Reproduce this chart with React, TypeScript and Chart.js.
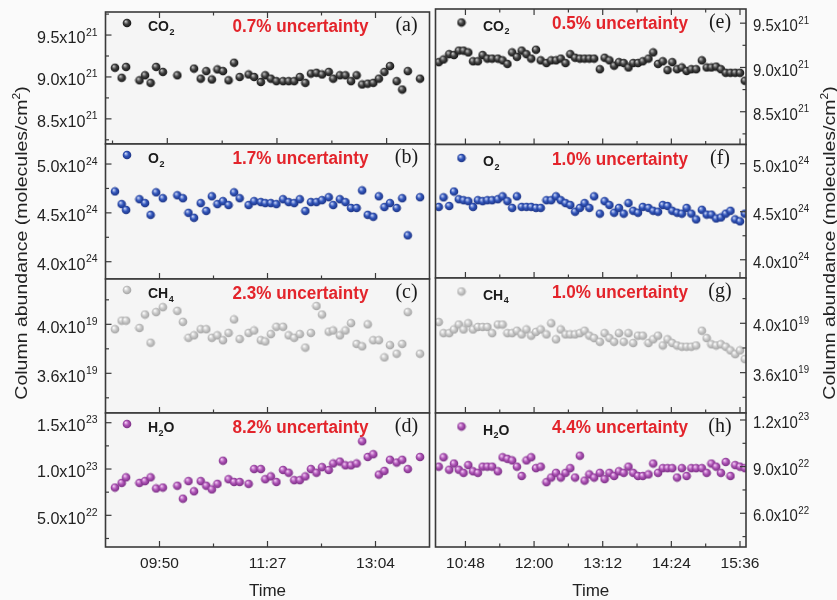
import React, { useEffect, useRef } from 'react';
import { Chart, registerables } from 'chart.js';
Chart.register(...registerables);

// ---------------- DATA ----------------
const LEFT_TIMES = ['09:10','09:16','09:20','09:32','09:37','09:42','09:47','09:53','10:06','10:11','10:16','10:21','10:27','10:32','10:37','10:42','10:47','10:52','10:57','11:02','11:10','11:15','11:21','11:25','11:30','11:35','11:41','11:46','11:51','11:56','12:01','12:06','12:11','12:16','12:22','12:26','12:32','12:37','12:42','12:47','12:52','12:57','13:02','13:07','13:12','13:17','13:23','13:28','13:33','13:44'];
const RIGHT_TIMES = ['10:20','10:25','10:31','10:36','10:41','10:46','10:51','10:56','11:01','11:06','11:11','11:16','11:22','11:27','11:32','11:37','11:42','11:47','11:52','11:57','12:02','12:07','12:13','12:18','12:23','12:28','12:33','12:38','12:43','12:48','12:53','12:58','13:03','13:09','13:14','13:19','13:24','13:29','13:34','13:39','13:44','13:49','13:54','14:00','14:05','14:10','14:15','14:20','14:25','14:30','14:35','14:40','14:45','14:50','14:56','15:01','15:06','15:11','15:16','15:21','15:26','15:31','15:36','15:41'];

// CO2 (x10^21 molecules/cm2)
const CO2_LEFT = [9.11,8.99,9.12,8.96,9.02,8.93,9.12,9.06,9.02,null,null,9.10,8.98,9.07,8.97,9.09,9.07,8.96,9.17,9.00,9.03,9.00,8.94,9.02,8.98,8.95,8.95,8.95,8.95,9.00,8.93,9.04,9.05,9.03,9.06,8.98,9.02,9.02,8.95,9.02,8.91,8.92,8.93,8.98,9.06,9.13,8.95,8.85,9.07,8.98];
const CO2_RIGHT = [9.06,9.09,9.15,9.14,9.19,9.19,9.17,9.07,9.07,9.14,9.10,9.10,9.10,9.08,9.04,9.17,9.12,9.19,9.15,9.10,9.20,9.08,9.05,9.08,9.08,9.10,9.05,9.15,9.11,9.10,9.10,9.10,9.10,8.98,9.11,9.08,9.02,9.06,9.05,9.00,9.05,9.05,9.07,9.10,9.17,9.04,9.07,8.97,9.06,8.98,9.00,8.96,8.98,8.98,9.08,9.00,9.00,9.01,8.98,8.94,8.94,8.94,8.94,8.85];
// O2 (x10^24)
const O2_LEFT = [4.72,4.59,4.53,4.64,4.60,4.48,4.71,4.65,4.68,4.65,4.50,4.45,4.60,4.52,4.67,4.59,4.62,4.58,4.71,4.65,4.58,4.62,4.61,4.60,4.60,4.59,4.64,4.61,4.60,4.64,4.52,4.61,4.61,4.63,4.66,4.58,4.64,4.61,4.55,4.55,4.73,4.48,4.46,4.67,4.56,4.60,4.55,4.65,4.27,4.66];
const O2_RIGHT = [4.55,4.65,4.56,4.71,4.63,4.62,4.61,4.55,4.62,4.61,4.62,4.62,4.63,4.66,4.61,4.54,4.66,4.55,4.55,4.55,4.54,4.54,4.62,4.62,4.66,4.62,4.59,4.57,4.50,4.54,4.59,4.54,4.66,4.48,4.61,4.57,4.49,4.54,4.48,4.59,4.51,4.49,4.55,4.54,4.51,4.50,4.57,4.56,4.51,4.49,4.48,4.54,4.48,4.42,4.52,4.47,4.47,4.43,4.44,4.48,4.51,4.42,4.40,4.48];
// CH4 (x10^19)
const CH4_LEFT = [3.96,4.03,4.03,3.97,4.08,3.85,4.10,4.14,4.11,4.02,3.89,3.91,3.96,3.96,3.89,3.91,3.87,3.93,4.04,3.88,3.93,3.95,3.87,3.86,3.92,3.98,3.98,3.91,3.89,3.92,3.81,3.93,4.15,4.08,3.94,3.95,3.91,3.95,4.01,3.84,3.82,4.00,3.87,3.87,3.73,3.83,3.76,3.84,4.10,3.76];
const CH4_RIGHT = [4.01,3.92,3.92,3.95,3.99,3.95,4.00,3.95,3.97,3.97,3.97,3.92,3.99,3.99,3.92,3.92,3.94,3.91,3.95,3.90,3.93,3.95,3.91,4.00,3.87,3.95,3.91,3.91,3.91,3.92,3.94,3.90,3.88,3.85,3.92,3.88,3.85,3.92,3.85,3.92,3.84,3.90,3.90,3.84,3.87,3.90,3.82,3.87,3.84,3.82,3.81,3.81,3.81,3.82,3.94,3.88,3.83,3.82,3.83,3.81,3.78,3.75,3.78,3.71];
// H2O (x10^23)
const H2O_LEFT = [0.80,0.85,0.91,0.85,0.87,0.91,0.79,0.80,0.82,0.68,0.87,0.76,0.87,0.82,0.78,0.84,1.09,0.89,0.86,0.86,0.84,1.00,1.00,0.89,0.92,0.86,0.99,0.96,0.88,0.88,0.92,1.00,0.96,1.02,0.99,1.06,1.08,1.04,1.04,1.06,1.30,1.13,1.16,0.94,0.98,1.10,1.07,1.10,1.00,1.13];
const H2O_RIGHT = [0.90,0.96,0.88,0.92,0.88,0.86,0.91,0.87,0.86,0.90,0.90,0.90,0.87,0.96,0.95,0.94,0.90,0.84,0.94,0.96,0.89,0.90,0.80,0.83,0.86,0.83,0.86,0.89,0.83,0.97,0.81,0.85,0.83,0.86,0.82,0.86,0.84,0.87,0.86,0.90,0.86,0.84,0.84,0.85,0.92,0.86,0.89,0.89,0.89,0.83,0.89,0.84,0.89,0.89,0.89,0.86,0.92,0.90,0.86,0.93,0.84,0.91,0.90,0.89];

// Axis ranges / ticks
const LEFT_X_RANGE = ['09:01.5', '13:52.5'];
const RIGHT_X_RANGE = ['10:16.6', '15:42.3'];
const LEFT_X_MAJOR = ['09:50', '11:27', '13:04'];
const LEFT_X_MINOR = ['10:38.5', '12:15.5'];
const PANEL_A_BOTTOM_MAJOR = ['09:57', '11:35.5', '13:14'];
const PANEL_A_BOTTOM_MINOR = ['09:07.8', '10:46.3', '12:24.8'];
const RIGHT_X_MAJOR = ['10:48', '12:00', '13:12', '14:24', '15:36'];
const RIGHT_X_MINOR = ['11:24', '12:36', '13:48', '15:00'];

const Y_CO2_LEFT = { min: 8.2, max: 9.775, major: [8.5, 9.0, 9.5], minor: [8.25, 8.75, 9.25, 9.75] };
const Y_CO2_RIGHT = { min: 8.13, max: 9.66, major: [8.5, 9.0, 9.5], minor: [8.25, 8.75, 9.25] };
const Y_O2_LEFT = { min: 3.823, max: 5.205, major: [4.0, 4.5, 5.0], minor: [4.25, 4.75] };
const Y_O2_RIGHT = { min: 3.81, max: 5.20, major: [4.0, 4.5, 5.0], minor: [4.25, 4.75] };
const Y_CH4_LEFT = { min: 3.276, max: 4.37, major: [3.6, 4.0], minor: [3.4, 3.8, 4.2] };
const Y_CH4_RIGHT = { min: 3.273, max: 4.367, major: [3.6, 4.0], minor: [3.4, 3.8, 4.2] };
const Y_H2O_LEFT = { min: 0.158, max: 1.605, major: [0.5, 1.0, 1.5], minor: [0.25, 0.75, 1.25] };
const Y_H2O_RIGHT = { min: 0.383, max: 1.245, major: [0.6, 0.9, 1.2], minor: [0.45, 0.75, 1.05] };

const UNCERTAINTY = ['0.7%', '1.7%', '2.3%', '8.2%', '0.5%', '1.0%', '1.0%', '4.4%'];
const LETTERS = ['(a)', '(b)', '(c)', '(d)', '(e)', '(f)', '(g)', '(h)'];
const Y_TITLE = 'Column abundance (molecules/cm';
const X_TITLE = 'Time';

// ---------------- LAYOUT / STYLE ----------------
const SANS = '"Liberation Sans", Arimo, Arial, sans-serif';
const SERIF = '"Liberation Serif", "DejaVu Serif", serif';
const RED = '#e3242b';
const AXIS = '#3a3a3a';
const COLS: any = {
  L: { canvasLeft: 0, canvasWidth: 437, x1: 105.5, x2: 429.5, rows: [[12, 144], [144, 279], [279, 413], [413, 547]],
       markerDx: 21.5, markerDy: 11, nameDx: 42.5, redDx: 195, letterDx: -23, titleX: 21 },
  R: { canvasLeft: 430, canvasWidth: 407, x1: 435.5, x2: 746, rows: [[9, 144.5], [144.5, 278], [278, 413], [413, 547]],
       markerDx: 26, markerDy: 13.5, nameDx: 47.5, redDx: 184.5, letterDx: -26, titleX: 829 },
};
const SHADES: any = {
  CO2: ['#c8c8c8', '#444444', '#0a0a0a'],
  O2: ['#d0dbf8', '#3357bd', '#182c78'],
  CH4: ['#ffffff', '#cbcbcb', '#9c9c9c'],
  H2O: ['#f6d2f7', '#b056b8', '#70267a'],
};

const toMin = (t: string) => { const [h, m] = t.split(':'); return Number(h) * 60 + Number(m); };

function makeSphere(c3: string[]): HTMLCanvasElement {
  const c = document.createElement('canvas');
  c.width = 10; c.height = 10;
  const g = c.getContext('2d')!;
  const grd = g.createRadialGradient(3.6, 3.4, 0.2, 5, 5, 4.8);
  grd.addColorStop(0, c3[0]);
  grd.addColorStop(0.45, c3[1]);
  grd.addColorStop(1, c3[2]);
  g.fillStyle = grd;
  g.beginPath(); g.arc(5, 5, 4.3, 0, Math.PI * 2); g.fill();
  return c;
}

type PanelDef = {
  idx: number; col: 'L' | 'R'; row: number; times: string[]; values: (number | null)[]; exp: number;
  y: { min: number; max: number; major: number[]; minor: number[] }; species: string; name: string[];
};

const PANELS: PanelDef[] = [
  { idx: 0, col: 'L', row: 0, times: LEFT_TIMES, values: CO2_LEFT, exp: 21, y: Y_CO2_LEFT, species: 'CO2', name: ['CO', '2', ''] },
  { idx: 1, col: 'L', row: 1, times: LEFT_TIMES, values: O2_LEFT, exp: 24, y: Y_O2_LEFT, species: 'O2', name: ['O', '2', ''] },
  { idx: 2, col: 'L', row: 2, times: LEFT_TIMES, values: CH4_LEFT, exp: 19, y: Y_CH4_LEFT, species: 'CH4', name: ['CH', '4', ''] },
  { idx: 3, col: 'L', row: 3, times: LEFT_TIMES, values: H2O_LEFT, exp: 23, y: Y_H2O_LEFT, species: 'H2O', name: ['H', '2', 'O'] },
  { idx: 4, col: 'R', row: 0, times: RIGHT_TIMES, values: CO2_RIGHT, exp: 21, y: Y_CO2_RIGHT, species: 'CO2', name: ['CO', '2', ''] },
  { idx: 5, col: 'R', row: 1, times: RIGHT_TIMES, values: O2_RIGHT, exp: 24, y: Y_O2_RIGHT, species: 'O2', name: ['O', '2', ''] },
  { idx: 6, col: 'R', row: 2, times: RIGHT_TIMES, values: CH4_RIGHT, exp: 19, y: Y_CH4_RIGHT, species: 'CH4', name: ['CH', '4', ''] },
  { idx: 7, col: 'R', row: 3, times: RIGHT_TIMES, values: H2O_RIGHT, exp: 23, y: Y_H2O_RIGHT, species: 'H2O', name: ['H', '2', 'O'] },
];

function expLabel(v: number, unitExp: number) {
  const e = Math.floor(Math.log10(v) + 1e-9);
  const m = v / Math.pow(10, e);
  return { mant: m.toFixed(1) + 'x10', exp: String(unitExp + e) };
}

function drawExp(ctx: CanvasRenderingContext2D, v: number, unitExp: number, x: number, y: number, alignRight: boolean, sx: number) {
  const { mant, exp } = expLabel(v, unitExp);
  ctx.font = `17px ${SANS}`;
  const wm = ctx.measureText(mant).width;
  ctx.font = `11px ${SANS}`;
  const we = ctx.measureText(exp).width;
  const total = (wm + 0.5 + we) * sx;
  const x0 = alignRight ? x - total : x;
  ctx.save();
  ctx.translate(x0, y);
  ctx.scale(sx, 1);
  ctx.fillStyle = '#222';
  ctx.textAlign = 'left';
  ctx.textBaseline = 'alphabetic';
  ctx.font = `17px ${SANS}`;
  ctx.fillText(mant, 0, 8.2);
  ctx.font = `11px ${SANS}`;
  ctx.fillText(exp, wm + 0.5, 0.5);
  ctx.restore();
}

function Panel({ def }: { def: PanelDef }) {
  const ref = useRef<HTMLCanvasElement>(null);
  const col = COLS[def.col];
  useEffect(() => {
    const [top, bottom] = col.rows[def.row];
    const sphere = makeSphere(SHADES[def.species]);
    const range = def.col === 'L' ? LEFT_X_RANGE : RIGHT_X_RANGE;
    const data = def.times
      .map((t, i) => ({ x: toMin(t), y: def.values[i] }))
      .filter((p) => p.y !== null && p.y !== undefined);
    const isLeft = def.col === 'L';
    const xMajor = isLeft ? LEFT_X_MAJOR : RIGHT_X_MAJOR;
    const xMinor = isLeft ? LEFT_X_MINOR : RIGHT_X_MINOR;
    const botMajor = def.idx === 0 ? PANEL_A_BOTTOM_MAJOR : xMajor;
    const botMinor = def.idx === 0 ? PANEL_A_BOTTOM_MINOR : xMinor;

    const deco = {
      id: 'deco',
      beforeDatasetsDraw(chart: any) {
        const { ctx, chartArea: ca } = chart;
        ctx.save();
        ctx.fillStyle = '#f5f5f5';
        ctx.fillRect(ca.left, ca.top, ca.right - ca.left, ca.bottom - ca.top);
        ctx.restore();
      },
      afterDatasetsDraw(chart: any) {
        const { ctx, chartArea: ca } = chart;
        const xs = chart.scales.x;
        const ys = chart.scales.y;
        ctx.save();
        ctx.strokeStyle = AXIS;
        ctx.lineWidth = 1.2;
        const seg = (a: number, b: number, c: number, d: number) => { ctx.beginPath(); ctx.moveTo(a, b); ctx.lineTo(c, d); ctx.stroke(); };
        botMajor.forEach((t) => { const p = xs.getPixelForValue(toMin(t)); seg(p, ca.bottom, p, ca.bottom - 6); });
        botMinor.forEach((t) => { const p = xs.getPixelForValue(toMin(t)); seg(p, ca.bottom, p, ca.bottom - 3.5); });
        if (def.row === 0) {
          xMajor.forEach((t) => { const p = xs.getPixelForValue(toMin(t)); seg(p, ca.top, p, ca.top + 6); });
          xMinor.forEach((t) => { const p = xs.getPixelForValue(toMin(t)); seg(p, ca.top, p, ca.top + 3.5); });
        }
        const yx = isLeft ? ca.left : ca.right;
        const dir = isLeft ? 1 : -1;
        def.y.major.forEach((v) => { const p = ys.getPixelForValue(v); seg(yx, p, yx + dir * 6, p); });
        def.y.minor.forEach((v) => { if (v > def.y.min && v < def.y.max) { const p = ys.getPixelForValue(v); seg(yx, p, yx + dir * 3.5, p); } });
        ctx.lineWidth = 1.6;
        ctx.strokeRect(ca.left, ca.top, ca.right - ca.left, ca.bottom - ca.top);

        def.y.major.forEach((v) => {
          const p = ys.getPixelForValue(v);
          if (isLeft) drawExp(ctx, v, def.exp, ca.left - 8, p, true, 0.95);
          else drawExp(ctx, v, def.exp, ca.right + 7, p, false, 0.88);
        });

        const mx = ca.left + col.markerDx;
        const my = ca.top + col.markerDy;
        ctx.drawImage(sphere, mx - 5, my - 5);
        ctx.fillStyle = '#1a1a1a';
        ctx.textAlign = 'left';
        ctx.textBaseline = 'alphabetic';
        let nx = ca.left + col.nameDx;
        const nb = my + 8;
        ctx.font = `bold 14px ${SANS}`;
        ctx.fillText(def.name[0], nx, nb);
        nx += ctx.measureText(def.name[0]).width;
        ctx.font = `bold 9px ${SANS}`;
        ctx.fillText(def.name[1], nx + 0.5, nb + 3.5);
        nx += ctx.measureText(def.name[1]).width + 0.5;
        if (def.name[2]) {
          ctx.font = `bold 14px ${SANS}`;
          ctx.fillText(def.name[2], nx, nb);
        }

        ctx.save();
        ctx.translate(ca.left + col.redDx, ca.top + 20);
        ctx.scale(0.95, 1);
        ctx.fillStyle = RED;
        ctx.textAlign = 'center';
        ctx.font = `bold 18px ${SANS}`;
        ctx.fillText(`${UNCERTAINTY[def.idx]} uncertainty`, 0, 0);
        ctx.restore();

        ctx.fillStyle = '#1a1a1a';
        ctx.textAlign = 'center';
        ctx.font = `20px ${SERIF}`;
        ctx.fillText(LETTERS[def.idx], ca.right + col.letterDx, ca.top + 19);

        if (def.row === 3) {
          ctx.font = `15.5px ${SANS}`;
          ctx.fillStyle = '#222';
          ctx.textAlign = 'center';
          xMajor.forEach((t) => { const p = xs.getPixelForValue(toMin(t)); ctx.fillText(t, p, 568); });
          ctx.font = `17px ${SANS}`;
          ctx.fillText(X_TITLE, (ca.left + ca.right) / 2, 596);
          // y title (canvas-local x)
          ctx.save();
          ctx.translate(col.titleX - col.canvasLeft, 243);
          ctx.rotate(-Math.PI / 2);
          ctx.scale(1, 0.86);
          ctx.font = `19.5px ${SANS}`;
          const w1 = ctx.measureText(Y_TITLE).width;
          ctx.font = `12px ${SANS}`;
          const w2 = ctx.measureText('2').width;
          ctx.font = `19.5px ${SANS}`;
          const w3 = ctx.measureText(')').width;
          const tw = w1 + w2 + w3;
          let tx = -tw / 2;
          ctx.textAlign = 'left';
          ctx.fillStyle = '#222';
          ctx.fillText(Y_TITLE, tx, 7);
          tx += w1;
          ctx.font = `12px ${SANS}`;
          ctx.fillText('2', tx, -1);
          tx += w2;
          ctx.font = `19.5px ${SANS}`;
          ctx.fillText(')', tx, 7);
          ctx.restore();
        }
        ctx.restore();
      },
    };

    const chart = new Chart(ref.current as HTMLCanvasElement, {
      type: 'scatter',
      data: {
        datasets: [{
          data: data as any,
          pointStyle: sphere as any,
          pointRadius: 4.5,
          pointHoverRadius: 4.5,
          clip: 0 as any,
        }],
      },
      options: {
        responsive: false,
        maintainAspectRatio: false,
        animation: false,
        events: [],
        layout: {
          padding: {
            left: col.x1 - col.canvasLeft,
            right: col.canvasLeft + col.canvasWidth - col.x2,
            top,
            bottom: 600 - bottom,
          },
        },
        scales: {
          x: { type: 'linear', display: false, min: toMin(range[0]), max: toMin(range[1]) },
          y: { type: 'linear', display: false, min: def.y.min, max: def.y.max },
        },
        plugins: { legend: { display: false }, tooltip: { enabled: false } },
      },
      plugins: [deco as any],
    });
    return () => chart.destroy();
  }, []);
  return (
    <canvas
      ref={ref}
      width={col.canvasWidth}
      height={600}
      style={{ position: 'absolute', left: col.canvasLeft, top: 0, width: col.canvasWidth, height: 600 }}
    />
  );
}

export default function App() {
  return (
    <div style={{ position: 'fixed', left: 0, top: 0, width: 837, height: 600, background: '#fafafa', overflow: 'hidden' }}>
      {PANELS.map((p) => <Panel key={p.idx} def={p} />)}
    </div>
  );
}
